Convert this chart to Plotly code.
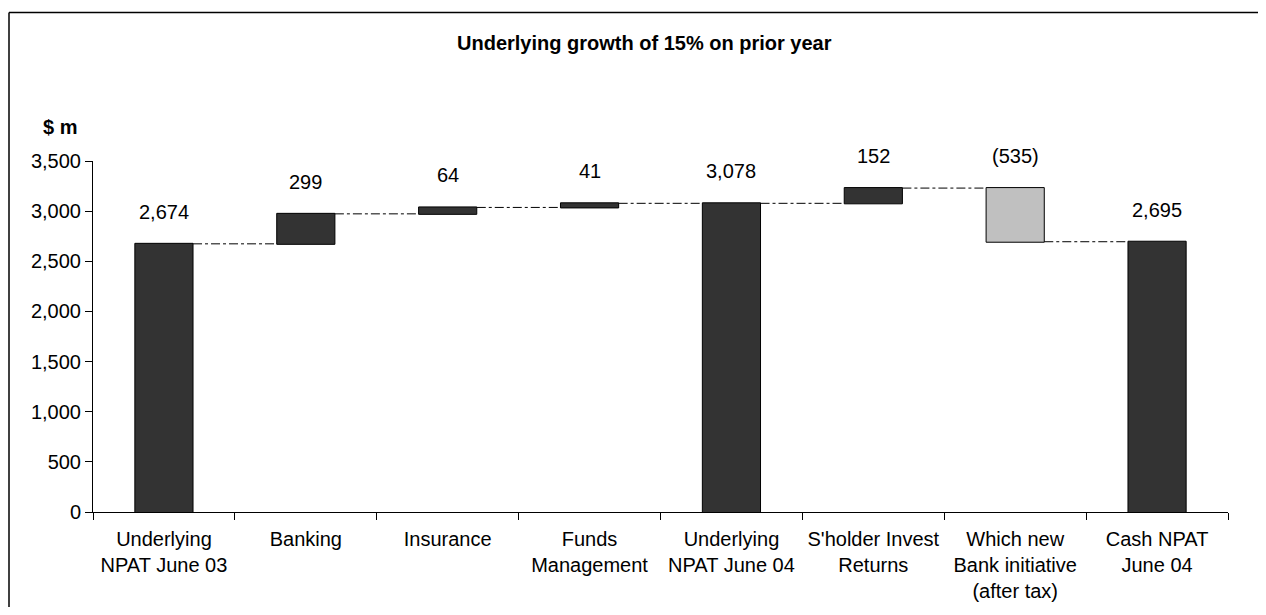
import plotly.graph_objects as go

categories = ["Underlying<br>NPAT June 03", "Banking", "Insurance", "Funds<br>Management",
              "Underlying<br>NPAT June 04", "S'holder Invest<br>Returns",
              "Which new<br>Bank initiative<br>(after tax)", "Cash NPAT<br>June 04"]
values = [2674, 299, 64, 41, 3078, 152, -535, 2695]
measures = ["absolute", "relative", "relative", "relative", "total", "relative", "relative", "total"]
value_labels = ["2,674", "299", "64", "41", "3,078", "152", "(535)", "2,695"]
y_ticks = [0, 500, 1000, 1500, 2000, 2500, 3000, 3500]
y_tick_text = ["0", "500", "1,000", "1,500", "2,000", "2,500", "3,000", "3,500"]

FONT = "Liberation Sans, Arial, sans-serif"
DARK = "#333333"
LIGHT = "#C0C0C0"
FS = 20

fig = go.Figure(go.Waterfall(
    x=categories, y=values, measure=measures,
    increasing=dict(marker=dict(color=DARK, line=dict(color="black", width=1))),
    decreasing=dict(marker=dict(color=LIGHT, line=dict(color="black", width=1))),
    totals=dict(marker=dict(color=DARK, line=dict(color="black", width=1))),
    connector=dict(line=dict(color="black", width=1, dash="dashdot"), mode="between"),
    width=[0.41] * len(values),
    hoverinfo="skip",
))

# bar tops from running totals
tops = []
running = 0
for v, m in zip(values, measures):
    if m == "absolute":
        running = v
        tops.append(v)
    elif m == "total":
        tops.append(running)
    else:
        prev = running
        running = running + v
        tops.append(max(prev, running))

for c, t, lab in zip(categories, tops, value_labels):
    fig.add_annotation(x=c, y=t, text=lab, showarrow=False, yanchor="bottom", yshift=19,
                       font=dict(family=FONT, size=FS, color="black"))

W, H = 1250, 599
L, R, T, B = 85, 30, 153, 95
pw, ph = W - L - R, H - T - B

fig.add_annotation(xref="paper", yref="paper", x=0.5, y=1.0,
                   text="<b>Underlying growth of 15% on prior year</b>",
                   showarrow=False, yanchor="middle", yshift=118, xshift=-16,
                   font=dict(family=FONT, size=20, color="black"))
fig.add_annotation(xref="paper", yref="paper", x=0, y=1.0, text="<b>$ m</b>",
                   showarrow=False, xanchor="center", yanchor="middle", xshift=-33, yshift=34,
                   font=dict(family=FONT, size=FS, color="black"))

# outer frame (left and top edges visible)
fx = (1 - L) / pw
fy = 1 + (T - 4.5) / ph
fig.add_shape(type="line", xref="paper", yref="paper", x0=fx, x1=fx, y0=fy, y1=-(H + 20 - T - ph) / ph,
              line=dict(color="black", width=1.5), layer="above")
fig.add_shape(type="line", xref="paper", yref="paper", x0=fx, x1=(W + 20 - L) / pw, y0=fy, y1=fy,
              line=dict(color="black", width=1.5), layer="above")

fig.update_layout(
    width=W, height=H,
    margin=dict(l=L, r=R, t=T, b=B, autoexpand=False),
    paper_bgcolor="white", plot_bgcolor="white",
    showlegend=False,
    font=dict(family=FONT, size=FS, color="black"),
    xaxis=dict(showline=True, linecolor="black", linewidth=1, ticks="outside", ticklen=7,
               tickcolor="black", tickson="boundaries", showgrid=False, ticklabelstandoff=9,
               automargin=False, tickfont=dict(family=FONT, size=FS)),
    yaxis=dict(range=[0, 3500], showline=True, linecolor="black", linewidth=1, ticks="outside",
               ticklen=7, tickcolor="black", showgrid=False, zeroline=False, automargin=False,
               tickvals=y_ticks, ticktext=y_tick_text, tickfont=dict(family=FONT, size=FS)),
)

fig.write_html("out.html")
